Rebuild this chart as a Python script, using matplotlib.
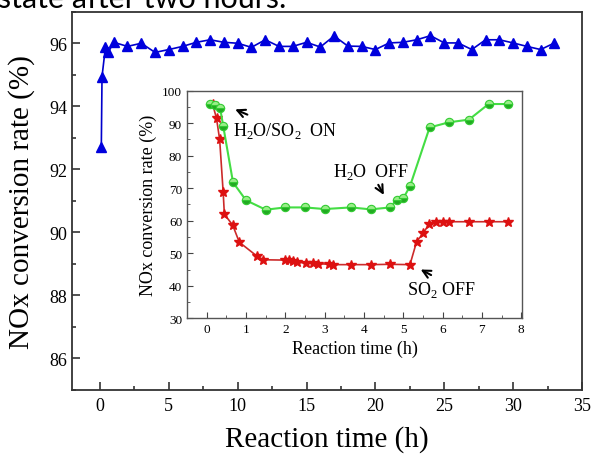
import matplotlib
matplotlib.use("Agg")
import matplotlib.pyplot as plt
from matplotlib.ticker import MultipleLocator

# main run: NOx conversion vs time (h)
t_main = [0.1, 0.15, 0.4, 0.6] + list(range(1, 34))
v_main = [92.72, 94.94, 95.88, 95.71,
          96.03, 95.90, 96.00, 95.71, 95.80, 95.90, 96.03, 96.11, 96.03, 96.00,
          95.87, 96.11, 95.90, 95.90, 96.03, 95.88, 96.23, 95.91, 95.90, 95.80,
          96.01, 96.03, 96.11, 96.24, 96.01, 96.01, 95.80, 96.11, 96.11, 96.01,
          95.90, 95.80, 96.01]

# inset: H2O/SO2 test
t_h2o = [0.08, 0.21, 0.34, 0.42, 0.67, 1.0, 1.5, 2.0, 2.5, 3.0, 3.67, 4.17,
         4.67, 4.83, 5.0, 5.17, 5.67, 6.17, 6.67, 7.17, 7.67]
v_h2o = [95.9, 95.7, 94.8, 89.2, 71.8, 66.3, 63.4, 64.1, 64.1, 63.6, 64.1, 63.5,
         64.1, 66.5, 66.9, 70.6, 88.7, 90.3, 91.1, 95.9, 95.9]

t_so2 = [0.15, 0.25, 0.33, 0.42, 0.45, 0.66, 0.83, 1.27, 1.44, 1.99, 2.1, 2.19,
         2.29, 2.53, 2.7, 2.84, 3.12, 3.22, 3.67, 4.17, 4.66, 5.17, 5.34, 5.5,
         5.66, 5.83, 6.0, 6.17, 6.67, 7.17, 7.67]
v_so2 = [95.9, 91.5, 85.0, 68.7, 62.0, 58.7, 53.4, 49.2, 48.0, 47.9, 47.8, 47.5,
         47.2, 47.0, 47.0, 46.8, 46.6, 46.5, 46.5, 46.5, 46.6, 46.5, 53.6, 56.1,
         59.0, 59.7, 59.7, 59.7, 59.7, 59.7, 59.7]

plt.rcParams['font.family'] = ['Liberation Serif', 'DejaVu Serif']
plt.rcParams['mathtext.fontset'] = 'custom'
plt.rcParams['mathtext.rm'] = 'Liberation Serif'

fig = plt.figure(figsize=(5.92, 4.56), dpi=100)

# cut-off caption from the page above the figure
fig.text(-0.004, 0.983, "state after two hours.", family='Lato', fontsize=22,
         ha='left', va='baseline', color='black')

ax = fig.add_axes([0.1216, 0.1425, 0.8615, 0.8296])
ax.plot(t_main, v_main, color='#0000cc', lw=1.2, marker='^', ms=7.5,
        mfc='#0000dd', mec='#0000dd')
ax.set_xlim(-2.03, 35)
ax.set_ylim(85, 97.0)
ax.xaxis.set_major_locator(MultipleLocator(5))
ax.xaxis.set_minor_locator(MultipleLocator(2.5))
ax.yaxis.set_major_locator(MultipleLocator(2))
ax.yaxis.set_minor_locator(MultipleLocator(1))
ax.tick_params(which='both', direction='in', top=False, right=False,
               labelsize=13, width=1.2, color='#333333')
ax.tick_params(which='major', length=6)
ax.tick_params(which='minor', length=3)
ax.tick_params(axis='x', pad=5)
for s in ax.spines.values():
    s.set_color('#333333')
    s.set_linewidth(1.3)
ax.set_xlabel("Reaction time (h)", fontsize=21, labelpad=8)
ax.set_ylabel("NOx conversion rate (%)", fontsize=21, labelpad=10)

# inset
ins = fig.add_axes([0.3159, 0.2998, 0.5659, 0.4991])
ins.plot(t_so2, v_so2, color='#cc2a2a', lw=1.2, marker='*', ms=7.5,
         mfc='#dd1111', mec='#dd1111')
ins.plot(t_h2o, v_h2o, color='#44dd44', lw=1.5, marker='o', ms=6,
         fillstyle='bottom', mfc='#22aa22', mfcalt='#99ee88', mec='#33cc33',
         mew=0.8)
ins.set_xlim(-0.5, 8.02)
ins.set_ylim(30, 100)
ins.xaxis.set_major_locator(MultipleLocator(1))
ins.xaxis.set_minor_locator(MultipleLocator(0.5))
ins.yaxis.set_major_locator(MultipleLocator(10))
ins.yaxis.set_minor_locator(MultipleLocator(5))
ins.tick_params(which='both', direction='in', top=False, right=False,
                labelsize=9.5, color='#444444')
ins.tick_params(which='major', length=4)
ins.tick_params(which='minor', length=2)
for s in ins.spines.values():
    s.set_color('#555555')
    s.set_linewidth(1.0)
ins.set_xlabel("Reaction time (h)", fontsize=13, labelpad=3)
ins.set_ylabel("NOx conversion rate (%)", fontsize=13, labelpad=4)

arr = dict(arrowstyle='->', color='black', lw=1.5, mutation_scale=14)
ins.annotate("", xy=(0.66, 94.6), xytext=(1.10, 92.3), arrowprops=arr)
ins.text(0.67, 87.9, "H$_2$O/SO$_2$  ON", fontsize=13, ha='left', va='center')
ins.text(3.21, 75.4, "H$_2$O  OFF", fontsize=13, ha='left', va='center')
ins.annotate("", xy=(4.54, 67.2), xytext=(4.33, 71.8), arrowprops=arr)
ins.text(5.09, 39.0, "SO$_2$ OFF", fontsize=13, ha='left', va='center')
ins.annotate("", xy=(5.38, 45.4), xytext=(5.77, 42.9), arrowprops=arr)

fig.savefig("out.png", dpi=100)
